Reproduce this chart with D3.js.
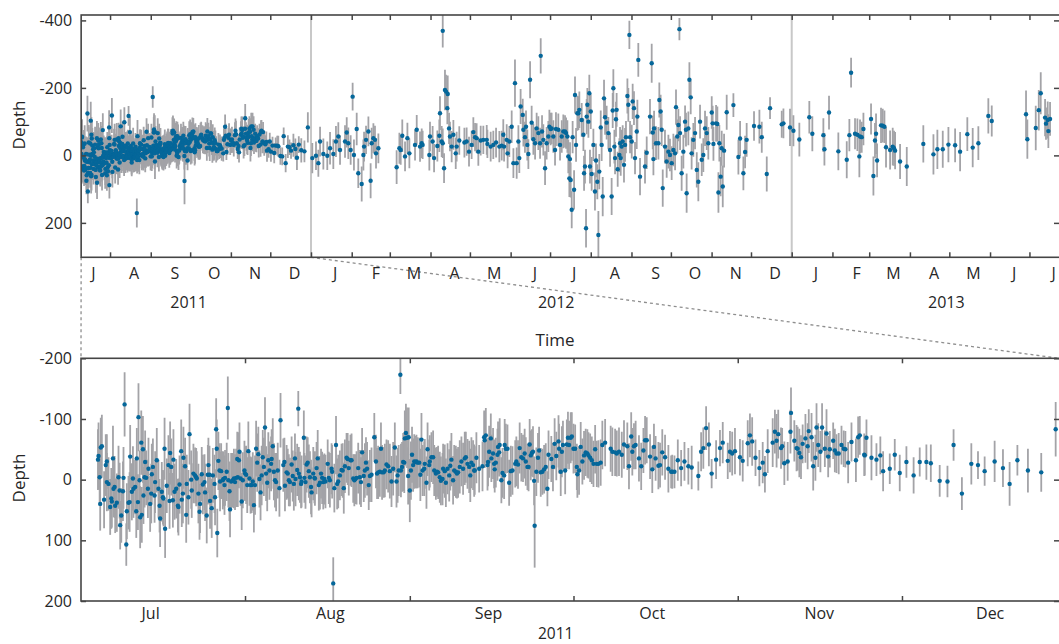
<!DOCTYPE html>
<html>
<head>
<meta charset="utf-8">
<script src="https://cdn.jsdelivr.net/npm/d3@7"></script>
<style>
  body { margin: 0; background: #fff; }
  text { font-family: "Open Sans", sans-serif; }
</style>
</head>
<body>
<div id="chart"></div>
<script>
// rows: [days since 10 Jul 2011, depth, error half-width]
const day0 = new Date(2011, 6, 10);

const obsJul2011 = [
  [0.0,-33,50],[0.1,-39,55],[0.3,-4,46],[0.5,-53,49],[0.7,-55,52],[0.4,40,44],[1.1,33,47],[1.4,-24,51],[1.6,-30,45],[1.6,4,48],
  [1.9,7,44],[2.2,45,46],[2.4,31,50],[2.7,-35,54],[2.5,36,43],[2.8,15,47],[3.0,12,51],[3.1,43,45],[3.4,38,48],[3.7,-4,52],
  [3.9,18,46],[4.0,75,40],[4.2,59,45],[4.5,19,49],[4.6,-3,51],[4.8,-124,53],[5.1,107,35],[5.2,52,46],[5.5,38,44],[5.7,37,49],
  [5.8,-38,52],[6.1,20,47],[6.3,-2,53],[6.4,15,48],[6.7,12,45],[6.9,52,44],[7.0,-35,50],[7.2,37,46],[7.3,-103,56],[7.5,1,49],
  [7.6,62,51],[7.8,-61,53],[7.9,58,46],[8.1,-50,55],[8.2,26,47],[8.4,-4,50],[8.5,-29,52],[8.7,-3,45],[9.0,15,48],[9.1,-18,51],
  [9.4,40,46],[9.6,23,49],[9.7,-9,50],[9.9,-21,47],[10.2,26,45],[10.3,4,51],[10.6,-32,53],[10.9,15,48],[11.1,43,44],[11.2,64,47],
  [11.5,20,49],[11.7,29,45],[11.8,31,46],[12.0,-51,51],[12.1,81,48],[12.4,10,45],[12.7,-24,49],[12.9,35,46],[13.0,-44,52],[13.2,-21,47],
  [13.5,34,45],[13.6,-33,50],[13.8,20,46],[14.1,15,49],[14.4,43,44],[14.5,45,47],[14.7,8,48],[15.0,-47,52],[15.1,33,45],[15.3,23,49],
  [15.4,-36,51],[15.7,-22,47],[15.9,58,46],[16.0,7,48],[16.3,29,45],[16.5,-75,50],[16.8,0,48],[16.9,18,45],[17.2,-10,49],[17.5,-7,46],
  [17.7,-4,48],[17.8,-2,45],[18.1,23,49],[18.3,53,46],[18.4,40,48],[18.7,-9,45],[18.9,8,49],[19.2,4,46],[19.3,21,47],[19.6,59,46],
  [19.8,-8,49],[19.9,-24,45],[20.1,-8,48],[20.2,35,46],[20.5,47,49],[20.7,-7,45],[21.0,7,48],[21.1,29,46],[21.3,-83,51],[21.4,-51,48],
  [21.5,88,40],[21.7,-31,48],[21.9,-15,45],[22.0,3,49],[22.2,-14,46],[22.5,1,48],[22.6,-1,45],[22.8,9,49],[22.9,-3,46],[23.2,-13,48],
  [23.4,-118,52],[23.5,1,45],[23.7,19,49],[23.8,49,46],[24.0,3,47],[24.3,1,45],[24.5,-2,49],[24.7,4,46],[24.9,-3,48],[25.1,-34,45],
  [25.2,-4,49],[25.4,-32,46],[25.5,-46,48],[25.7,-2,45],[25.9,36,47],[26.1,1,46],[26.4,-15,49],[26.5,-10,45],[26.7,-8,48],[26.9,9,46],
  [27.1,-47,49],[27.3,-2,45],[27.5,9,47],[27.7,9,46],[27.9,3,48],[28.1,42,45],[28.3,9,49],[28.5,-51,46],[28.7,-28,48],[28.9,-42,45],
  [29.1,-1,47],[29.3,21,46],[29.5,-7,49],[29.7,-37,45],[29.9,-21,48],[30.1,-86,50],[30.3,-10,45],[30.5,5,47],[30.7,-32,46],[30.9,-15,48],
  [31.2,-26,45],[31.3,-34,49],[31.5,-55,46],[31.7,-13,47],[31.9,1,45],[32.1,4,48],[32.4,-15,46],[32.7,14,47],[32.9,-98,45]
];

const obsAug2011 = [
  [33.4,-24,44],[33.6,-29,40],[33.7,10,42],[34.0,-12,45],[34.2,-10,41],[34.4,1,43],[34.6,4,40],[34.9,-25,46],[35.1,-6,42],[35.3,7,44],
  [35.5,-35,41],[35.6,-1,45],[35.9,-16,43],[36.1,-117,29],[36.2,-10,44],[36.4,-4,42],[36.6,7,40],[36.7,3,43],[37.1,-69,45],[37.2,-3,41],
  [37.4,4,44],[37.6,-25,46],[37.8,-28,42],[38.0,-14,44],[38.2,-4,43],[38.4,12,45],[38.5,21,41],[38.8,-10,44],[39.0,-3,42],[39.1,-2,45],
  [39.4,-19,43],[39.6,-35,47],[39.8,9,42],[40.0,5,44],[40.2,-10,41],[40.4,-3,43],[40.6,4,45],[40.8,-1,42],[41.0,3,44],[41.4,-26,40],
  [41.6,-3,43],[41.8,1,45],[42.1,-18,42],[42.2,-13,44],[42.4,171,43],[42.6,14,40],[42.9,-57,48],[43.1,7,42],[43.3,3,44],[43.6,-7,41],
  [43.9,-16,43],[44.1,-15,45],[44.3,14,42],[44.5,-22,44],[44.8,-36,41],[45.0,-34,43],[45.2,-19,45],[45.5,-32,42],[45.7,-32,44],[46.0,-2,40],
  [46.2,1,43],[46.4,-1,41],[46.6,-3,44],[46.9,-19,42],[47.2,-4,45],[47.4,4,41],[47.6,-45,40],[47.9,-6,43],[48.1,-15,45],[48.3,-28,42],
  [48.5,-18,44],[48.8,9,41],[49.0,-6,43],[49.3,-8,45],[49.8,-70,40],[50.1,-30,44],[50.3,-10,42],[50.5,-12,44],[50.8,-13,41],[51.0,-51,43],
  [51.2,-12,45],[51.5,-12,42],[51.7,-15,44],[52.0,-25,41],[52.3,-22,43],[52.6,-14,45],[52.9,3,42],[53.2,-18,44],[53.5,-53,41],[53.8,3,43],
  [54.0,-7,45],[54.2,-15,42],[54.5,-173,32],[54.6,-15,44],[54.8,-21,41],[55.0,-29,48],[55.2,-28,50],[55.3,-68,46],[55.5,-77,48],[55.7,-69,50],
  [55.9,-6,47],[56.0,-70,49],[56.2,18,52],[56.4,-15,48],[56.6,-41,46],[56.8,-24,44],[57.0,-30,45],[57.3,-29,43],[57.4,-30,44],[57.6,-28,42],
  [57.9,-28,41],[58.1,-8,43],[58.3,-66,44],[58.5,-15,42],[58.8,-18,45],[58.9,-26,41],[59.2,5,43],[59.4,-50,44],[59.7,-24,42],[59.8,-30,43],
  [60.1,-37,41],[60.4,-37,44],[60.6,-15,42],[60.9,-10,43],[61.1,-13,41],[61.3,-12,44],[61.6,-4,42],[61.8,2,40],[62.1,-1,43],[62.2,-18,41],
  [62.5,-14,44],[62.7,5,40],[63.0,-18,42],[63.3,-7,43],[63.5,-23,41],[63.7,-33,44],[64.0,1,40],[64.2,-15,42],[64.5,-13,43],[64.7,-10,41],
  [64.9,-12,42],[65.2,-21,44],[65.5,-30,41],[65.8,-18,43],[66.1,-35,44],[66.3,-37,42],[66.6,-26,41],[66.9,-21,43],[67.1,-7,44],[67.3,-28,42],
  [67.6,-24,41],[67.8,-15,43]
];

const obsSep2011 = [
  [67.9,-15,40],[68.2,-36,42],[68.7,-18,39],[69.3,-22,41],[69.6,-70,44],[69.7,-65,46],[69.9,-73,45],[70.2,-24,42],[70.3,-29,40],[70.5,-46,43],
  [70.8,-68,41],[70.9,-35,39],[71.2,-43,42],[71.4,-26,40],[71.5,-17,38],[71.7,-28,41],[72.0,-41,43],[72.1,-54,42],[72.3,-45,40],[72.4,-57,44],
  [72.7,1,38],[72.9,-11,41],[73.2,-7,39],[73.3,-57,43],[73.5,-51,41],[73.8,-51,40],[74.1,5,38],[74.4,-14,42],[74.7,-15,40],[75.2,-26,39],
  [75.4,-30,41],[75.7,-25,40],[76.0,-52,42],[76.3,-37,40],[76.6,-35,39],[76.9,-43,41],[77.1,-30,40],[77.4,-21,38],[77.6,-21,40],[77.8,-58,42],
  [78.0,-40,41],[78.2,-44,39],[78.4,-46,42],[78.6,2,40],[78.7,76,69],[79.0,-13,40],[79.3,-36,41],[79.5,-48,39],[79.8,-12,40],[80.1,-13,38],
  [80.4,-17,40],[80.7,-21,39],[81.0,15,29],[81.2,-41,40],[81.7,-34,38],[82.0,-21,40],[82.3,-59,42],[82.6,-39,40],[83.0,-63,43],[83.1,-51,41],
  [83.4,-13,40],[83.6,-46,42],[83.8,-57,40],[84.2,-15,39],[84.5,-58,41],[84.7,-69,43],[84.9,-57,40],[85.2,-69,42],[85.4,-71,40],[85.7,-51,41],
  [86.0,-51,40],[86.3,-21,38],[86.4,-9,39],[86.7,-15,40],[87.0,-54,41],[87.3,-30,38],[87.6,-40,40],[87.9,-45,39],[88.2,-43,40],[88.4,-40,38],
  [88.7,-36,40],[89.0,-32,39],[89.3,-26,38],[89.6,-50,40],[89.9,-26,38],[90.2,-26,39],[90.6,-28,38],[90.9,-57,40],[91.4,-61,39],[92.4,-51,38],
  [92.7,-46,40],[93.2,-45,39],[93.5,-43,38],[93.9,-46,40],[94.4,-41,38],[94.8,-58,40],[95.4,-55,39],[95.7,-22,38],[96.1,-71,40],[96.3,-46,39],
  [96.6,-55,38],[96.9,-57,40],[97.5,-35,38],[97.9,-22,39],[98.3,-48,37],[98.6,-65,40],[98.9,-65,38],[99.5,-38,37],[99.9,-17,39],[100.2,-54,38],
  [100.5,-35,37],[101.0,-23,39],[101.3,-24,37],[101.7,-45,38],[102.2,-37,37],[102.8,-18,39]
];

const obsOct2011 = [
  [103.3,-13,27],[103.5,-13,28],[103.9,-13,27],[104.5,-32,34],[105.1,-19,30],[105.7,-30,32],[106.4,-22,30],[107.0,-20,36],[108.2,-6,24],[108.7,-46,32],
  [109.1,-52,34],[109.6,-85,36],[110.1,-58,36],[110.6,-10,24],[111.4,-33,32],[112.1,-52,30],[112.6,-61,34],[113.5,-31,30],[113.9,-46,34],[114.3,-43,36],
  [114.8,-47,38],[115.7,-37,30],[116.2,-31,34],[117.1,-60,38],[117.5,-73,36],[117.9,-63,40],[118.5,-36,30],[119.2,-19,30],[119.8,-28,34],[120.2,-9,30],
  [120.7,-47,36],[121.6,-61,40],[122.0,-79,36],[122.3,-64,44],[122.6,-75,40],[123.1,-52,34],[123.3,-55,30],[123.7,-27,36],[124.3,-30,32],[124.8,-79,36],
  [124.9,-110,42],[125.5,-64,34],[125.9,-52,38],[126.1,-51,36],[126.4,-44,40],[126.7,-37,36],[127.0,-59,32],[127.5,-68,40],[127.9,-55,38],[128.1,-80,36],
  [128.6,-70,40],[128.9,-22,40],[129.3,-36,38],[129.5,-86,40],[129.8,-57,36],[130.2,-46,34],[130.5,-86,40],[131.0,-51,30],[131.3,-76,40],[131.6,-38,34],
  [131.9,-50,30],[132.5,-64,30],[132.8,-48,36],[133.1,-43,32],[133.5,-43,34],[134.0,-57,32],[134.4,-51,30],[134.7,-50,30],[135.2,-28,34],[135.8,-62,32],
  [136.6,-32,36],[137.0,-70,34],[137.3,-73,32],[138.1,-41,35]
];

const obsDec2011 = [
  [138.2,-40,33],[138.5,-69,30],[139.4,-36,37],[140.3,-33,27],[141.0,-40,31],[141.5,-14,33],[142.7,-18,25],[143.6,-41,26],[144.5,-11,30],[145.7,-29,26],
  [147.0,-7,30],[148.1,-29,24],[149.3,-29,29],[150.1,-27,31],[151.7,2,26],[153.1,3,26],[154.2,-57,26],[155.7,23,27],[157.4,-26,34],[158.6,-24,23],
  [159.8,-14,24],[161.6,-30,34],[163.1,-19,31],[164.3,7,36],[165.7,-32,25],[167.6,-15,36],[170.0,-12,32],[172.6,-83,45]
];

const obsWinter2012 = [
  [176.0,8,45],[178.8,1,42],[180.6,23,40],[181.9,-41,44],[184.4,-4,46],[187.4,1,42],[189.5,-21,48],[192.0,-4,44],[194.0,-41,46],[195.8,-56,42],
  [197.1,-16,44],[200.9,-41,48],[202.2,-68,45],[203.4,-36,47],[205.2,-16,44],[206.7,-174,41],[207.7,-1,46],[209.8,-78,48],[211.0,53,44],[213.6,85,52],
  [214.9,-1,46],[215.4,-26,44],[216.9,-46,42],[218.7,-71,44],[220.4,75,52],[221.2,-36,46],[222.5,-51,44],[223.7,-46,42],[224.5,-6,45],[226.3,-21,44]
];

const obsSpring2012 = [
  [240.2,35,50],[242.3,-21,46],[243.3,-16,44],[244.5,-58,48],[246.6,3,44],[248.4,-51,46],[249.9,-6,44],[254.2,-31,46],[255.5,-76,44],[258.0,-26,45],
  [259.3,-36,44],[260.0,-31,42],[265.1,-1,46],[265.6,-56,44],[267.6,-41,46],[268.7,8,42],[271.2,-28,46],[272.7,-58,48],[273.2,-125,50],[274.5,-41,46],
  [275.3,-36,44],[275.3,-369,49],[276.3,38,44],[277.0,-194,60],[277.8,-189,50],[278.8,-140,48],[279.1,-182,55],[280.1,-80,46],[280.8,-56,44],[282.1,-26,46],
  [283.4,-61,44],[285.2,-6,46],[285.9,-26,44],[287.9,-44,42],[291.8,-38,44],[293.5,-41,42],[295.3,-11,44],[297.3,-31,42],[298.6,-69,44],[299.9,-54,42],
  [301.1,-51,44],[302.4,-11,42],[304.2,-44,44],[306.2,-46,42],[308.8,-46,44],[309.3,-34,42],[311.8,-26,44],[313.8,-31,42],[315.9,-38,44],[318.4,-26,46],
  [320.2,-29,44],[321.4,-61,46],[322.0,-26,44],[324.0,-46,46],[324.7,-6,44],[326.0,-41,46],[327.8,-85,48],[329.1,23,44],[330.3,-214,70],[331.6,23,46],
  [332.9,-41,48],[333.6,8,44],[334.6,-145,52],[336.2,-120,48],[336.7,-76,50],[337.9,-54,46],[338.7,-85,48],[339.7,-31,46],[340.5,-4,44],[341.8,-224,55],
  [343.0,-97,50],[344.3,-48,46],[345.6,-36,48],[346.8,-80,46],[348.1,-66,50],[349.4,-36,46],[349.9,-295,52],[350.9,-71,48],[351.9,-46,46],[353.2,38,50],
  [354.4,-36,48],[355.7,-56,46],[356.5,-85,50],[357.5,-78,48],[358.2,-80,46],[359.5,-56,48],[360.8,-16,46],[361.5,-78,50],[363.3,-76,48],[364.6,-31,46],
  [365.9,-56,48],[367.1,-71,50],[368.4,-71,48],[369.2,-66,46],[370.2,-56,48]
];

const obsSummer2012 = [
  [370.9,3,50],[371.7,68,55],[372.2,11,50],[372.7,73,52],[373.5,161,55],[374.2,-54,48],[375.3,102,58],[376.0,-179,55],[376.8,-31,50],[377.8,-125,52],
  [378.6,-125,50],[379.3,-135,54],[381.1,-105,50],[382.4,-61,48],[382.9,53,52],[383.6,33,50],[384.4,216,57],[384.9,-115,52],[385.4,-150,50],[386.2,-100,48],
  [386.9,-184,55],[387.4,33,50],[388.0,-130,52],[388.7,55,50],[390.0,-31,48],[391.2,107,56],[392.0,15,50],[393.0,78,52],[393.8,236,71],[394.5,48,52],
  [395.6,-83,50],[396.3,-31,48],[397.1,122,58],[398.1,-169,55],[398.9,-113,52],[400.1,-97,50],[401.4,-66,48],[402.7,-16,50],[403.9,122,55],[404.7,-133,52],
  [405.2,-199,56],[406.0,-26,50],[406.5,8,48],[407.2,-107,52],[407.7,-135,50],[408.5,41,52],[409.8,-1,50],[410.3,-36,48],[410.8,8,52],[411.5,-26,50],
  [412.3,-41,48],[413.3,28,52],[414.1,-31,50],[414.8,-54,48],[415.9,-176,52],[416.6,-150,50],[417.4,-357,42],[417.9,-54,48],[419.2,-41,50],[419.9,-160,52],
  [420.9,-140,50],[421.7,8,48],[423.0,-71,52],[423.5,-115,50],[424.2,-283,50],[425.5,63,55],[429.3,33,50],[430.6,-8,48],[433.1,-115,52],[434.4,-273,58],
  [435.2,-68,50],[435.7,11,48],[436.2,-80,52],[437.7,-36,50],[439.5,-36,48],[440.2,-164,52],[441.2,-130,50],[442.0,-76,48],[442.8,97,55],[444.5,-26,50],
  [445.8,18,48],[447.1,-11,50],[448.3,-1,48],[449.6,23,50],[450.9,-16,48],[452.2,-6,50],[452.9,-143,52],[453.9,-56,50],[454.7,-90,48],[455.5,-374,33],
  [456.0,-66,50],[457.2,53,52],[458.5,-11,50],[459.8,-100,48],[460.5,-76,50],[461.0,112,58],[462.3,-80,50],[463.1,-224,52],[464.1,-172,50],[464.8,-6,48],
  [466.1,-46,50],[467.4,-66,48],[468.7,43,52],[469.9,78,58],[471.2,-100,50],[472.5,13,48],[473.7,-1,50],[475.0,-80,52],[476.3,-66,50],[477.5,-36,48]
];

const obsLate2012 = [
  [480.1,-127,48],[480.8,-95,52],[481.4,-34,50],[483.4,-95,54],[484.4,-93,52],[485.2,110,60],[485.9,-36,54],[486.9,63,58],[487.7,-21,52],[488.5,92,62],
  [489.5,-14,50],[491.5,-128,52],[496.6,-149,35],[500.4,5,52],[501.7,-50,52],[504.2,53,50],[505.5,-10,48],[506.7,-46,50],[512.3,-87,44],[516.4,-85,50],
  [518.2,-54,46],[522.0,55,52],[524.5,-140,32],[533.4,-92,40],[534.7,-95,44]
];

const obs2013 = [
  [539.7,-83,55],[542.3,-73,46],[546.8,-47,50],[554.4,-113,48],[556.7,-64,52],[565.1,-60,50],[565.9,-18,48],[569.4,-127,50],[576.5,-12,56],[582.9,13,55],
  [584.9,-60,48],[586.2,-245,44],[589.2,-64,46],[591.0,-61,48],[592.5,3,62],[593.0,-56,50],[594.3,-54,46],[595.6,-78,48],[601.4,-108,46],[603.2,61,58],
  [604.4,-44,52],[605.2,-64,60],[606.0,15,50],[609.0,-89,52],[610.3,-88,50],[611.6,-85,48],[612.8,-24,60],[615.9,-16,58],[617.9,-26,56],[618.9,-21,52],
  [619.7,-14,55],[623.5,18,52],[628.6,33,58],[641.2,-34,55],[648.9,-3,60],[651.9,-18,58],[656.0,-18,55],[660.3,-32,52],[665.4,-30,50],[669.2,-11,58],
  [674.7,-63,50],[678.8,-23,58],[683.1,-36,50],[690.7,-117,52],[693.3,-102,46],[719.4,-122,70],[720.4,-48,58],[726.8,-81,66],[729.1,-134,60],[730.6,-184,62],
  [733.9,-112,55],[734.6,-94,48],[735.9,-105,55],[736.4,-72,50],[737.7,-108,50]
];

// axis ticks and labels
const topYTicks = [-400, -200, 0, 200];
const bottomYTicks = [-200, -100, 0, 100, 200];
const monthLetters = ["J", "F", "M", "A", "M", "J", "J", "A", "S", "O", "N", "D"];
const yearLabels = ["2011", "2012", "2013"];
const yearLabelDays = [81.4, 361.3, 658.3];
const yearBreaks = [new Date(2012, 0, 1), new Date(2013, 0, 1)];
const bottomTickDays = [26.5, 56.2, 85.7, 115.3, 144.9];
const bottomMonthLabels = ["Jul", "Aug", "Sep", "Oct", "Nov", "Dec"];
const bottomLabelDays = [9.4, 41.8, 70.3, 99.8, 129.9, 160.7];

const toDate = t => new Date(day0.getTime() + t * 864e5);

const obs = [].concat(obsJul2011, obsAug2011, obsSep2011, obsOct2011, obsDec2011,
  obsWinter2012, obsSpring2012, obsSummer2012, obsLate2012, obs2013)
  .map(([t, depth, err]) => ({ date: toDate(t), depth, err }));

const W = 1059, H = 644;
const DOT = "#05679a", BAR = "#a3a3a7", AXIS = "#454545", TEXT = "#262626";

const svg = d3.select("#chart").append("svg")
  .attr("width", W).attr("height", H)
  .style("display", "block");

const xTop = d3.scaleTime().domain([toDate(0), toDate(744.5)]).range([81.15, 1059]);
const yTop = d3.scaleLinear().domain([-416, 302]).range([15, 257.3]);
const xBot = d3.scaleTime().domain([toDate(-3.06), toDate(173.2)]).range([81, 1059]);
const yBot = d3.scaleLinear().domain([-200, 200]).range([358.3, 601]);

const styleAxis = (sel, size) => {
  sel.select(".domain").remove();
  sel.selectAll(".tick line").attr("stroke", AXIS).attr("stroke-width", 1.5);
  sel.selectAll(".tick text").attr("fill", TEXT)
    .style("font-size", (size || 16) + "px")
    .style("font-family", "'Open Sans', sans-serif");
};

// zoom connectors
svg.append("g")
  .attr("stroke", "#8e8e8e").attr("stroke-width", 1.3).attr("stroke-dasharray", "3,3")
  .selectAll("line")
  .data([[xTop.range()[0], xBot.range()[0]], [xTop(new Date(2012, 0, 1)), xBot.range()[1]]])
  .join("line")
  .attr("x1", d => d[0]).attr("y1", yTop.range()[1])
  .attr("x2", d => d[1]).attr("y2", yBot.range()[0]);

function drawPanel(id, x, y, yTicks, breaks) {
  const [x0, x1] = x.range();
  const [y0, y1] = y.range();
  svg.append("clipPath").attr("id", id)
    .append("rect").attr("x", x0).attr("y", y0).attr("width", x1 - x0).attr("height", y1 - y0);

  const plot = svg.append("g").attr("clip-path", `url(#${id})`);

  plot.selectAll("line.brk").data(breaks).join("line")
    .attr("class", "brk")
    .attr("x1", d => x(d)).attr("x2", d => x(d))
    .attr("y1", y0).attr("y2", y1)
    .attr("stroke", "#c8c8c8").attr("stroke-width", 2);

  plot.selectAll("line.err").data(obs).join("line")
    .attr("class", "err")
    .attr("x1", d => x(d.date)).attr("x2", d => x(d.date))
    .attr("y1", d => y(d.depth - d.err)).attr("y2", d => y(d.depth + d.err))
    .attr("stroke", BAR).attr("stroke-width", 1.8);

  plot.selectAll("circle").data(obs).join("circle")
    .attr("cx", d => x(d.date)).attr("cy", d => y(d.depth))
    .attr("r", 2.2).attr("fill", DOT);

  // y axes, ticks pointing inward
  svg.append("g").attr("transform", `translate(${x0},0)`)
    .call(d3.axisLeft(y).tickValues(yTicks).tickSizeInner(-5).tickSizeOuter(0).tickPadding(9).tickFormat(d => String(d)))
    .call(styleAxis);
  svg.append("g").attr("transform", `translate(${x1},0)`)
    .call(d3.axisRight(y).tickValues(yTicks).tickSizeInner(-5).tickSizeOuter(0).tickFormat(""))
    .call(styleAxis);

  return { x0, x1, y0, y1 };
}

// ---- top panel
const tp = drawPanel("clipTop", xTop, yTop, topYTicks, yearBreaks);
const [tStart, tEnd] = xTop.domain();
const monthStarts = d3.timeMonth.range(d3.timeMonth.ceil(tStart), tEnd);
const monthMids = d3.timeMonth.range(d3.timeMonth.floor(tStart), tEnd)
  .map(m => new Date(m.getFullYear(), m.getMonth(), 19))
  .filter(d => d >= tStart && d <= tEnd);

svg.append("g").attr("transform", `translate(0,${tp.y1})`)
  .call(d3.axisBottom(xTop).tickValues(monthStarts).tickSizeInner(-5).tickSizeOuter(0).tickFormat(""))
  .call(styleAxis);
svg.append("g").attr("transform", `translate(0,${tp.y0})`)
  .call(d3.axisTop(xTop).tickValues(monthStarts).tickSizeInner(-5).tickSizeOuter(0).tickFormat(""))
  .call(styleAxis);
svg.append("g").attr("transform", `translate(0,${tp.y1})`)
  .call(d3.axisBottom(xTop).tickValues(monthMids).tickSize(0).tickPadding(10.5).tickFormat(d => monthLetters[d.getMonth()]))
  .call(styleAxis);
svg.append("g").attr("transform", `translate(0,${tp.y1})`)
  .call(d3.axisBottom(xTop).tickValues(yearLabelDays.map(toDate)).tickSize(0).tickPadding(39.6).tickFormat((d, i) => yearLabels[i]))
  .call(styleAxis);

// ---- bottom panel
const bp = drawPanel("clipBot", xBot, yBot, bottomYTicks, []);
const bTicks = bottomTickDays.map(toDate);
svg.append("g").attr("transform", `translate(0,${bp.y1})`)
  .call(d3.axisBottom(xBot).tickValues(bTicks).tickSizeInner(-5).tickSizeOuter(0).tickFormat(""))
  .call(styleAxis);
svg.append("g").attr("transform", `translate(0,${bp.y0})`)
  .call(d3.axisTop(xBot).tickValues(bTicks).tickSizeInner(-5).tickSizeOuter(0).tickFormat(""))
  .call(styleAxis);
svg.append("g").attr("transform", `translate(0,${bp.y1})`)
  .call(d3.axisBottom(xBot).tickValues(bottomLabelDays.map(toDate)).tickSize(0).tickPadding(7).tickFormat((d, i) => bottomMonthLabels[i]))
  .call(styleAxis);

// boxes
[tp, bp].forEach(p => {
  svg.append("rect")
    .attr("x", p.x0).attr("y", p.y0)
    .attr("width", p.x1 - p.x0 + 1).attr("height", p.y1 - p.y0)
    .attr("fill", "none").attr("stroke", AXIS).attr("stroke-width", 1.6);
});

// titles
const title = (txt, x, y, rotate) => svg.append("text")
  .attr("transform", `translate(${x},${y})` + (rotate ? " rotate(-90)" : ""))
  .attr("text-anchor", "middle")
  .attr("fill", TEXT)
  .style("font-size", "17px")
  .text(txt);

title("Depth", 25.4, 125, true);
title("Depth", 25.4, 478, true);
title("Time", 555, 345.5, false);
svg.append("text")
  .attr("x", 555.7).attr("y", 639)
  .attr("text-anchor", "middle").attr("fill", TEXT)
  .style("font-size", "15.5px")
  .text("2011");
</script>
</body>
</html>
